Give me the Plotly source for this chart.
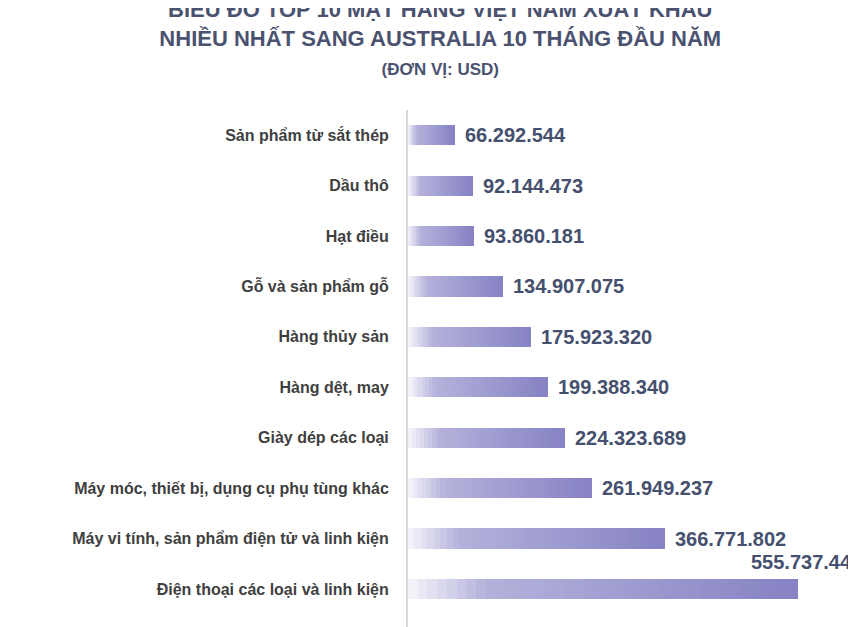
import plotly.graph_objects as go

categories = ["Sản phẩm từ sắt thép", "Dầu thô", "Hạt điều", "Gỗ và sản phẩm gỗ", "Hàng thủy sản",
              "Hàng dệt, may", "Giày dép các loại", "Máy móc, thiết bị, dụng cụ phụ tùng khác",
              "Máy vi tính, sản phẩm điện tử và linh kiện", "Điện thoại các loại và linh kiện"]
values = [66292544, 92144473, 93860181, 134907075, 175923320, 199388340, 224323689,
          261949237, 366771802, 555737441]

def fmt(v):
    return f"{v:,}".replace(",", ".")

N = 40
stops = [(0.0, (246, 246, 251)), (0.2, (180, 178, 219)), (1.0, (134, 130, 196))]
def color(t):
    for (a, ca), (b, cb) in zip(stops, stops[1:]):
        if a <= t <= b:
            f = (t - a) / (b - a)
            c = [round(ca[i] + (cb[i] - ca[i]) * f) for i in range(3)]
            return f"rgb({c[0]},{c[1]},{c[2]})"
    return "rgb(134,130,196)"

fig = go.Figure()
for k in range(N):
    fig.add_trace(go.Bar(y=categories, x=[v / N for v in values], orientation="h",
                         marker=dict(color=color((k + 0.5) / N), line=dict(width=0)),
                         width=0.4, showlegend=False, hoverinfo="skip"))

xmax = 650e6
for i, (c, v) in enumerate(zip(categories, values)):
    last = i == len(values) - 1
    fig.add_annotation(x=xmax if last else v, y=c, text=fmt(v), showarrow=False,
                       xanchor="right" if last else "left", xshift=0 if last else 8,
                       yshift=27 if last else 0, yanchor="middle",
                       font=dict(family="Liberation Sans, Arial", size=20, color="#45506e", weight="bold"))

fig.update_layout(
    width=856, height=627, barmode="stack", bargap=0,
    paper_bgcolor="white", plot_bgcolor="white",
    margin=dict(l=400, r=0, t=102, b=6),
    title=dict(text="BIỂU ĐỒ TOP 10 MẶT HÀNG VIỆT NAM XUẤT KHẨU<br>NHIỀU NHẤT SANG AUSTRALIA 10 THÁNG ĐẦU NĂM"
                    "<br><span style='font-size:17px'>(ĐƠN VỊ: USD)</span>",
               x=0.505, xanchor="center", y=0.985, yanchor="top",
               font=dict(family="Liberation Sans, Arial", size=22, color="#4a5270", weight="bold")),
    xaxis=dict(range=[0, xmax], visible=False),
    yaxis=dict(autorange="reversed", showline=True, linecolor="#d9d9d9", linewidth=2,
               ticks="", ticklabelstandoff=14,
               tickfont=dict(family="Liberation Sans, Arial", size=16, color="#404040", weight="bold")),
)
fig.write_html("out.html")
